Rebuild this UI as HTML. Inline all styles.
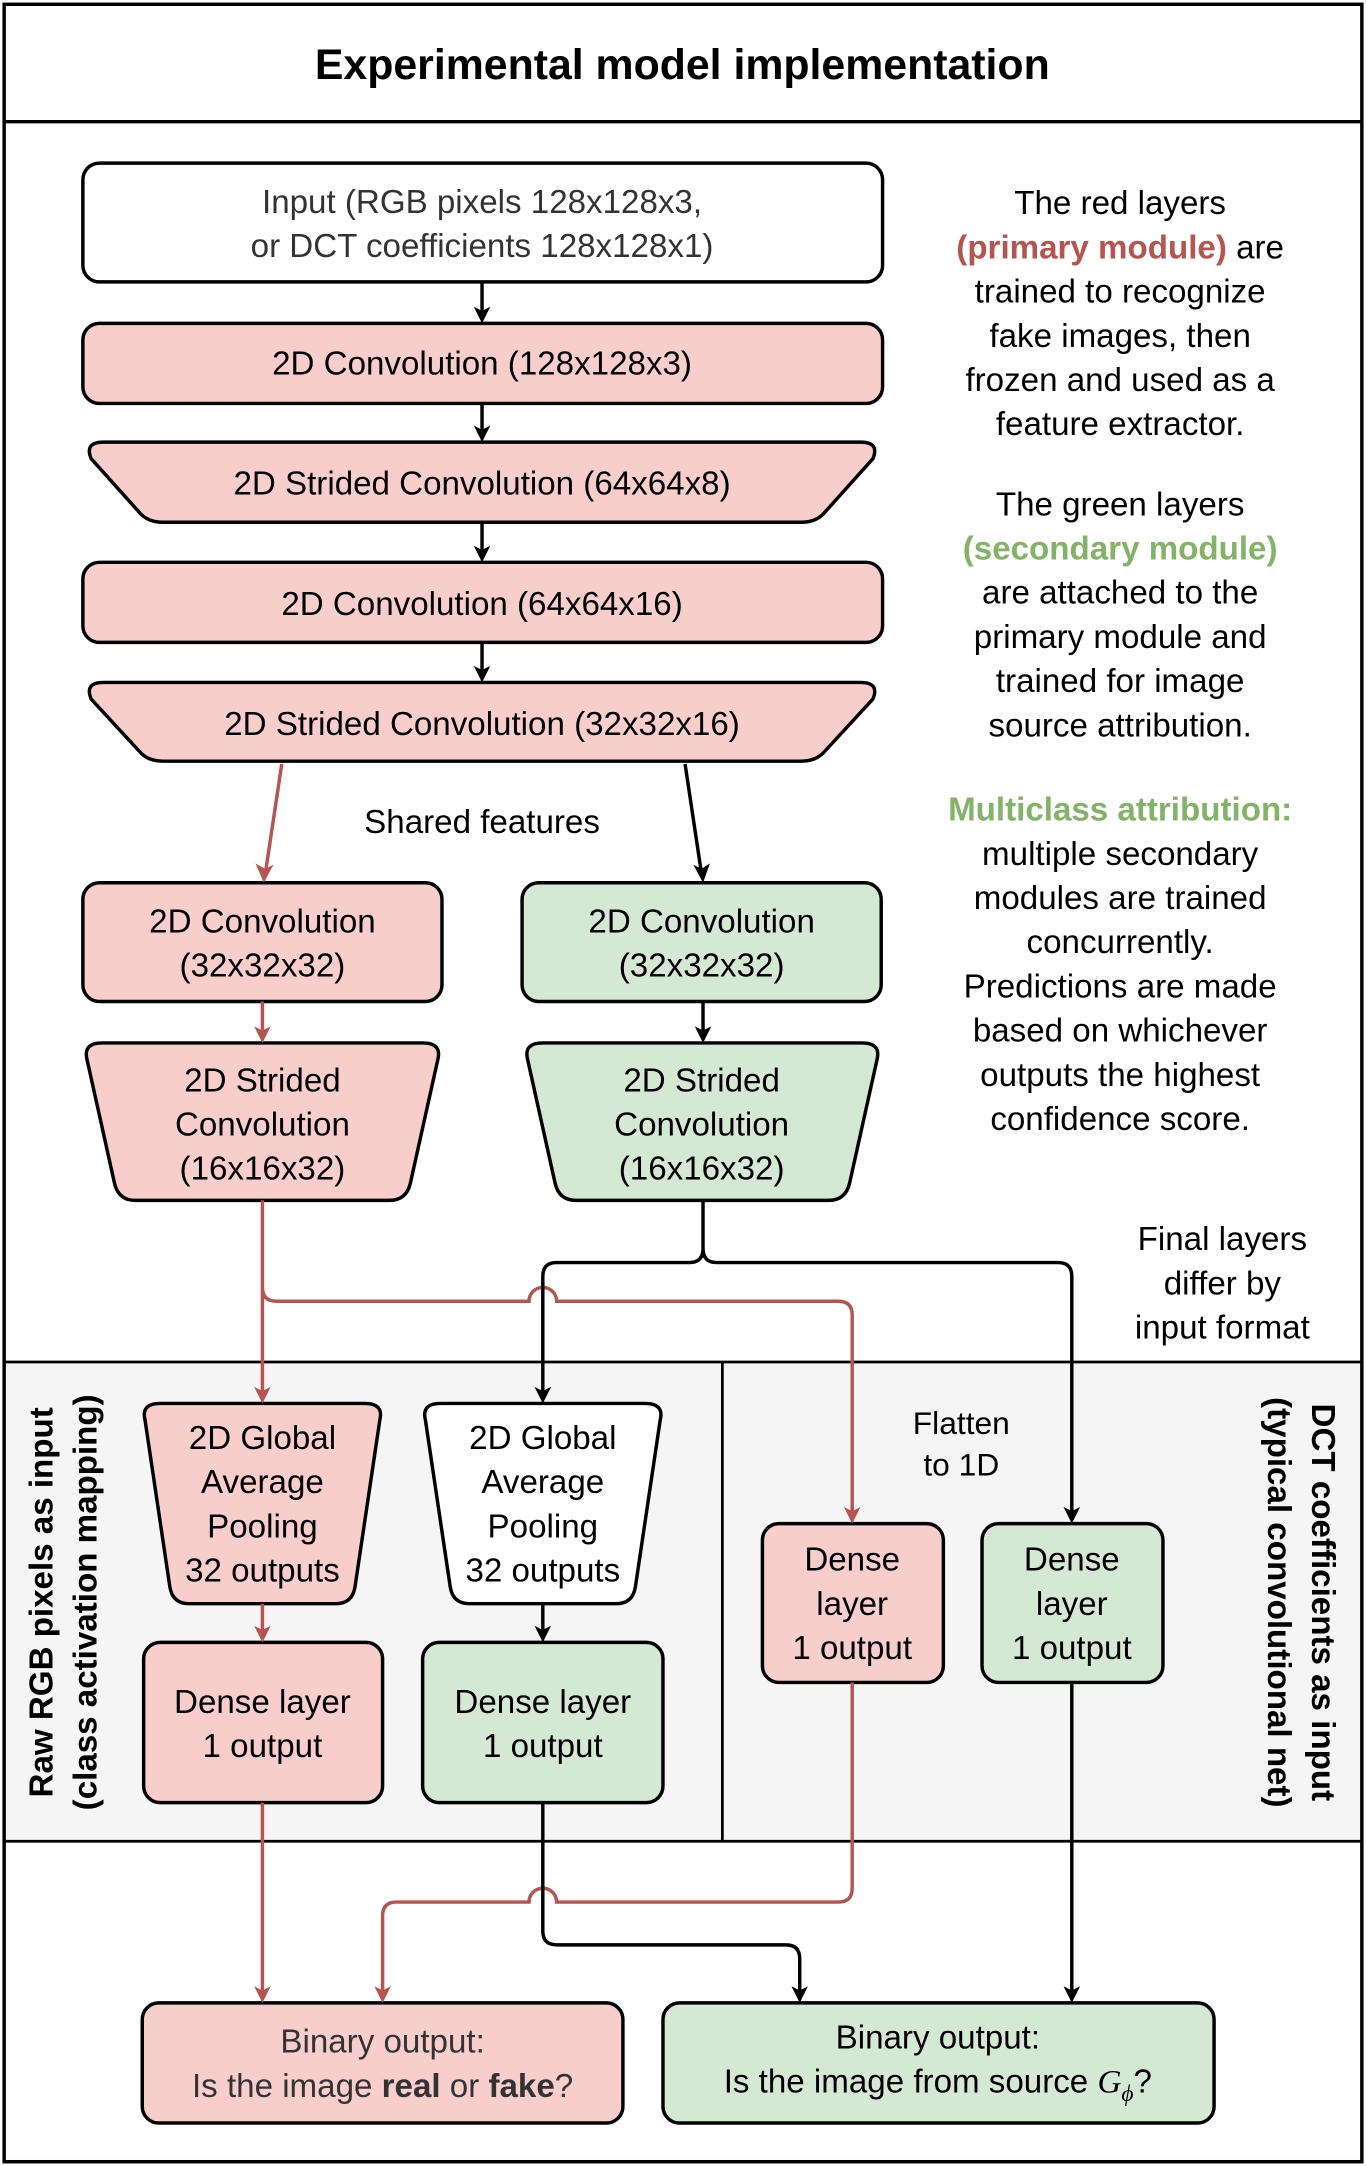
<!DOCTYPE html>
<html><head><meta charset="utf-8"><style>
html,body{margin:0;padding:0;background:#fff;}
svg{display:block;}
text{font-family:"Liberation Sans",sans-serif;}
</style></head><body>
<svg width="1366" height="2166" viewBox="0 0 989 1568" xmlns="http://www.w3.org/2000/svg">
<defs>
<marker id="ab" markerWidth="10" markerHeight="10" refX="5" refY="9" orient="auto" markerUnits="userSpaceOnUse" viewBox="0 0 10 10"><path d="M0,0 L5,10 L10,0 L5,3 Z" fill="#000" transform="rotate(0)"/></marker>
</defs>
<rect x="0" y="0" width="989" height="1568" fill="#fff"/>
<rect x="3" y="986" width="983" height="347" fill="#f5f5f5"/>
<rect x="3" y="3" width="983" height="1562" fill="none" stroke="#000" stroke-width="2.5"/>
<line x1="3" y1="88" x2="986" y2="88" stroke="#000" stroke-width="2.5"/>
<line x1="3" y1="986" x2="986" y2="986" stroke="#000" stroke-width="2"/>
<line x1="3" y1="1333" x2="986" y2="1333" stroke="#000" stroke-width="2"/>
<line x1="523" y1="986" x2="523" y2="1333" stroke="#000" stroke-width="2"/>
<text x="494" y="57" text-anchor="middle" font-size="31" font-weight="bold">Experimental model implementation</text>

<g stroke="#000" stroke-width="2.5">
<rect x="60" y="118" width="579" height="86" rx="12" fill="#fff"/>
<rect x="60" y="234" width="579" height="58" rx="12" fill="#f8cecc"/>
<path d="M75,320 L623,320 Q637,320 632,332 L597,371 Q591,378 580,378 L118,378 Q107,378 101,371 L66,332 Q61,320 75,320 Z" fill="#f8cecc"/>
<rect x="60" y="407" width="579" height="58" rx="12" fill="#f8cecc"/>
<path d="M75,494 L623,494 Q637,494 632,506 L597,544 Q591,551 580,551 L118,551 Q107,551 101,544 L66,506 Q61,494 75,494 Z" fill="#f8cecc"/>
<rect x="60" y="639" width="260" height="86" rx="12" fill="#f8cecc"/>
<rect x="378" y="639" width="260" height="86" rx="12" fill="#d5e8d4"/>
<path d="M74,755 L306,755 Q320,755 317,767 L297,857 Q294,869 282,869 L98,869 Q86,869 83,857 L63,767 Q60,755 74,755 Z" fill="#f8cecc"/>
<path d="M393,755 L624,755 Q638,755 635,767 L615,857 Q612,869 600,869 L417,869 Q405,869 402,857 L382,767 Q379,755 393,755 Z" fill="#d5e8d4"/>
<path d="M116,1016 L264,1016 Q278,1016 275,1028 L257,1149 Q255,1161 243,1161 L137,1161 Q125,1161 123,1149 L105,1028 Q102,1016 116,1016 Z" fill="#f8cecc"/>
<path d="M319,1016 L467,1016 Q481,1016 478,1028 L460,1149 Q458,1161 446,1161 L340,1161 Q328,1161 326,1149 L308,1028 Q305,1016 319,1016 Z" fill="#fff"/>
<rect x="104" y="1189" width="173" height="116" rx="12" fill="#f8cecc"/>
<rect x="306" y="1189" width="174" height="116" rx="12" fill="#d5e8d4"/>
<rect x="552" y="1103" width="131" height="115" rx="12" fill="#f8cecc"/>
<rect x="711" y="1103" width="131" height="115" rx="12" fill="#d5e8d4"/>
<rect x="103" y="1450" width="348" height="87" rx="12" fill="#f8cecc"/>
<rect x="480" y="1450" width="399" height="87" rx="12" fill="#d5e8d4"/>
</g>

<g fill="none" stroke-width="2.5">
<path d="M349,204 V230 M349,292 V316 M349,378 V403 M349,465 V490" stroke="#000"/>
<path d="M204,553 L192,633" stroke="#b85450"/>
<path d="M496,553 L508,633" stroke="#000"/>
<path d="M190,725 V751" stroke="#b85450"/>
<path d="M509,725 V751" stroke="#000"/>
<path d="M190,869 V1010 M190,932 Q190,942 200,942 L383,942 A10,10 0 0 1 403,942 L607,942 Q617,942 617,952 V1097" stroke="#b85450"/>
<path d="M509,869 V904 Q509,914 499,914 L403,914 Q393,914 393,924 V1010 M509,904 Q509,914 519,914 L766,914 Q776,914 776,924 V1097" stroke="#000"/>
<path d="M190,1161 V1185" stroke="#b85450"/>
<path d="M393,1161 V1185" stroke="#000"/>
<path d="M190,1305 V1444" stroke="#b85450"/>
<path d="M617,1218 V1367 Q617,1377 607,1377 L403,1377 A10,10 0 0 0 383,1377 L287,1377 Q277,1377 277,1387 V1444" stroke="#b85450"/>
<path d="M393,1305 V1398 Q393,1408 403,1408 L569,1408 Q579,1408 579,1418 V1444" stroke="#000"/>
<path d="M776,1218 V1444" stroke="#000"/>
</g>
<g fill="#000">
<path d="M343,222 L349,234 L355,222 L349,225Z M343,308 L349,320 L355,308 L349,311Z M343,395 L349,407 L355,395 L349,398Z M343,482 L349,494 L355,482 L349,485Z"/>
<path d="M502,626 L509,639 L514,625 L508,629Z"/>
<path d="M503,743 L509,755 L515,743 L509,746Z"/>
<path d="M387,1004 L393,1016 L399,1004 L393,1007Z"/>
<path d="M770,1091 L776,1103 L782,1091 L776,1094Z"/>
<path d="M387,1177 L393,1189 L399,1177 L393,1180Z"/>
<path d="M573,1438 L579,1450 L585,1438 L579,1441Z"/>
<path d="M770,1438 L776,1450 L782,1438 L776,1441Z"/>
</g>
<g fill="#b85450">
<path d="M185,625 L191,639 L198,626 L192,629Z"/>
<path d="M184,743 L190,755 L196,743 L190,746Z"/>
<path d="M184,1004 L190,1016 L196,1004 L190,1007Z"/>
<path d="M611,1091 L617,1103 L623,1091 L617,1094Z"/>
<path d="M184,1177 L190,1189 L196,1177 L190,1180Z"/>
<path d="M184,1438 L190,1450 L196,1438 L190,1441Z"/>
<path d="M271,1438 L277,1450 L283,1438 L277,1441Z"/>
</g>

<g font-size="24" text-anchor="middle" fill="#000">
<text x="349" y="154" fill="#333">Input (RGB pixels 128x128x3,</text>
<text x="349" y="186" fill="#333">or DCT coefficients 128x128x1)</text>
<text x="349" y="271">2D Convolution (128x128x3)</text>
<text x="349" y="358">2D Strided Convolution (64x64x8)</text>
<text x="349" y="445">2D Convolution (64x64x16)</text>
<text x="349" y="532">2D Strided Convolution (32x32x16)</text>
<text x="349" y="603">Shared features</text>
<text x="190" y="675">2D Convolution</text><text x="190" y="707">(32x32x32)</text>
<text x="508" y="675">2D Convolution</text><text x="508" y="707">(32x32x32)</text>
<text x="190" y="790">2D Strided</text><text x="190" y="822">Convolution</text><text x="190" y="854">(16x16x32)</text>
<text x="508" y="790">2D Strided</text><text x="508" y="822">Convolution</text><text x="508" y="854">(16x16x32)</text>
<text x="190" y="1049">2D Global</text><text x="190" y="1081">Average</text><text x="190" y="1113">Pooling</text><text x="190" y="1145">32 outputs</text>
<text x="393" y="1049">2D Global</text><text x="393" y="1081">Average</text><text x="393" y="1113">Pooling</text><text x="393" y="1145">32 outputs</text>
<text x="190" y="1240">Dense layer</text><text x="190" y="1272">1 output</text>
<text x="393" y="1240">Dense layer</text><text x="393" y="1272">1 output</text>
<text x="617" y="1137">Dense</text><text x="617" y="1169">layer</text><text x="617" y="1201">1 output</text>
<text x="776" y="1137">Dense</text><text x="776" y="1169">layer</text><text x="776" y="1201">1 output</text>
<text x="277" y="1486" fill="#333">Binary output:</text>
<text x="277" y="1518" fill="#333">Is the image <tspan font-weight="bold">real</tspan> or <tspan font-weight="bold">fake</tspan>?</text>
<text x="679" y="1483">Binary output:</text>
<text x="679" y="1515">Is the image from source <tspan font-family="Liberation Serif" font-style="italic">G</tspan><tspan font-family="Liberation Serif" font-style="italic" font-size="17" dy="6">ϕ</tspan><tspan dy="-6">?</tspan></text>
<text x="696" y="1038" font-size="23">Flatten</text><text x="696" y="1068" font-size="23">to 1D</text>
<text x="885" y="905">Final layers</text><text x="885" y="937">differ by</text><text x="885" y="969">input format</text>
<text x="811" y="155">The red layers</text>
<text x="811" y="187"><tspan fill="#b85450" font-weight="bold">(primary module)</tspan> are</text>
<text x="811" y="219">trained to recognize</text>
<text x="811" y="251">fake images, then</text>
<text x="811" y="283">frozen and used as a</text>
<text x="811" y="315">feature extractor.</text>
<text x="811" y="373">The green layers</text>
<text x="811" y="405" fill="#82b366" font-weight="bold">(secondary module)</text>
<text x="811" y="437">are attached to the</text>
<text x="811" y="469">primary module and</text>
<text x="811" y="501">trained for image</text>
<text x="811" y="533">source attribution.</text>
<text x="811" y="594" fill="#82b366" font-weight="bold">Multiclass attribution:</text>
<text x="811" y="626">multiple secondary</text>
<text x="811" y="658">modules are trained</text>
<text x="811" y="690">concurrently.</text>
<text x="811" y="722">Predictions are made</text>
<text x="811" y="754">based on whichever</text>
<text x="811" y="786">outputs the highest</text>
<text x="811" y="818">confidence score.</text>
<text transform="translate(38,1160) rotate(-90)" font-weight="bold">Raw RGB pixels as input</text>
<text transform="translate(70,1160) rotate(-90)" font-weight="bold">(class activation mapping)</text>
<text transform="translate(950,1160) rotate(90)" font-weight="bold">DCT coefficients as input</text>
<text transform="translate(918,1160) rotate(90)" font-weight="bold">(typical convolutional net)</text>
</g>
</svg>
</body></html>
